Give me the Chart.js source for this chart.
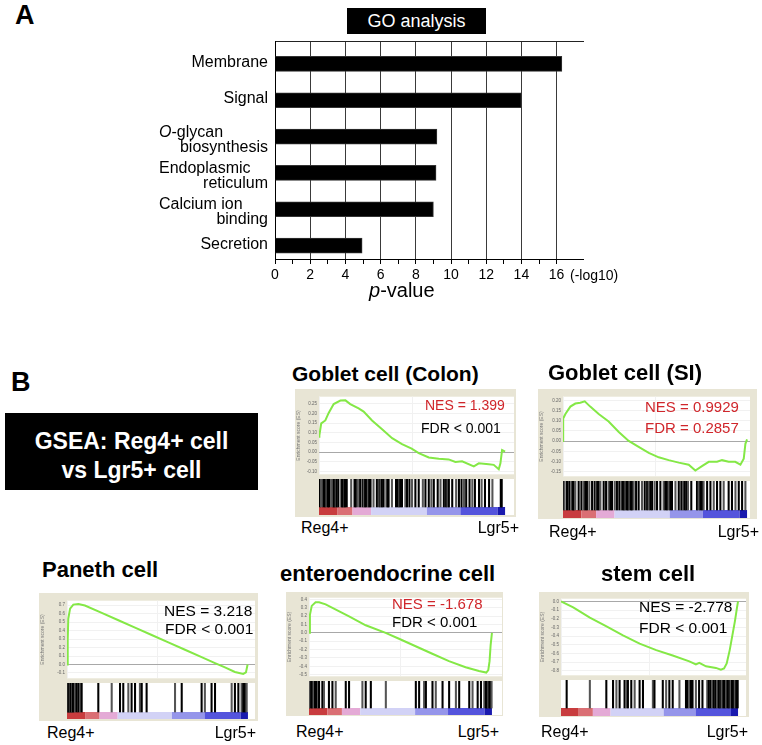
<!DOCTYPE html>
<html>
<head>
<meta charset="utf-8">
<script src="https://cdn.jsdelivr.net/npm/chart.js@4.4.1/dist/chart.umd.min.js"></script>
<style>
  body { margin: 0; background: #fff; }
  #page { position: relative; width: 762px; height: 745px; overflow: hidden; font-family: "Liberation Sans", Arial, sans-serif; }
  #page canvas, .txt, .box, .frame { position: absolute; }
  .txt { white-space: nowrap; color: #000; }
  .box { background: #000; }
  .frame { background: #e8e5d5; }
</style>
</head>
<body>
<div id="page"></div>
<script>
// --- GO analysis (panel A) ---
const goCategories = [['Membrane'], ['Signal'], ['O-glycan', 'biosynthesis'], ['Endoplasmic', 'reticulum'], ['Calcium ion', 'binding'], ['Secretion']];
const goValues = [16.3, 14.0, 9.2, 9.15, 9.0, 4.95];
const goTicks = [0, 2, 4, 6, 8, 10, 12, 14, 16];

// --- GSEA (panel B): rank position (% of list), enrichment score, gene hits ---
const colonRank = [0, 0.2, 1.2, 3.4, 5.2, 7.9, 11.5, 14.2, 16.8, 21.3, 24.0, 28.5, 33.9, 39.3, 44.6, 49.8, 53.6, 59.0, 64.4, 69.7, 73.3, 76.9, 83.2, 85.9, 91.2, 93.9, 96.6, 97.5, 98.4, 100];
const colonES = [0.08, 0.087, 0.149, 0.164, 0.203, 0.249, 0.267, 0.268, 0.249, 0.226, 0.210, 0.164, 0.118, 0.072, 0.041, 0.018, -0.005, -0.028, -0.035, -0.038, -0.051, -0.048, -0.074, -0.058, -0.063, -0.066, -0.089, -0.058, 0.011, 0.003];
const colonHits = [0.5, 1.1, 2.3, 3.2, 4.0, 4.7, 5.4, 6.5, 7.7, 8.3, 9.0, 9.5, 10.4, 11.9, 12.4, 13.1, 13.7, 14.0, 14.9, 17.3, 19.1, 19.8, 20.9, 22.1, 23.4, 24.1, 24.8, 25.5, 26.3, 27.0, 27.7, 29.3, 31.1, 32.4, 33.1, 33.8, 34.7, 36.2, 36.9, 37.4, 39.2, 41.4, 42.4, 43.2, 43.7, 44.6, 46.4, 47.3, 48.6, 50.0, 51.8, 53.6, 55.8, 57.2, 59.0, 60.4, 61.7, 63.8, 65.3, 67.1, 68.3, 69.1, 69.8, 71.6, 73.7, 75.2, 76.6, 77.9, 79.1, 80.9, 82.4, 83.8, 86.0, 87.4, 89.2, 91.4, 93.2, 97.7, 98.2];

const siRank = [0, 0.1, 1.3, 4.0, 6.7, 9.4, 11.8, 14.8, 19.4, 24.8, 30.3, 35.7, 41.1, 46.6, 52.0, 57.4, 62.9, 68.3, 71.9, 75.5, 79.2, 83.7, 86.4, 90.0, 93.6, 96.4, 98.2, 99.1, 100];
const siES = [0.001, 0.111, 0.133, 0.169, 0.184, 0.188, 0.195, 0.169, 0.133, 0.096, 0.045, 0.001, -0.028, -0.057, -0.079, -0.093, -0.105, -0.115, -0.144, -0.122, -0.101, -0.101, -0.093, -0.101, -0.101, -0.115, -0.086, -0.013, 0.009];
const siHits = [0.4, 0.9, 2.2, 3.4, 4.5, 5.3, 5.8, 6.7, 8.5, 10.0, 11.2, 12.1, 13.0, 14.3, 15.8, 17.2, 17.9, 18.7, 19.4, 20.3, 22.1, 23.4, 24.8, 25.7, 26.6, 28.1, 29.3, 30.6, 31.7, 32.4, 33.2, 33.9, 34.6, 35.3, 36.1, 36.8, 37.5, 38.4, 39.7, 41.1, 42.9, 44.4, 45.7, 46.6, 47.5, 48.4, 49.8, 51.1, 52.9, 54.7, 55.6, 56.5, 57.4, 58.3, 59.2, 61.1, 62.9, 64.3, 65.2, 66.1, 67.0, 67.9, 69.7, 72.8, 73.7, 74.6, 75.5, 76.4, 78.3, 80.1, 81.9, 83.7, 85.5, 87.3, 90.0, 91.8, 93.7, 95.5, 97.3, 99.1];

const panethRank = [0, 0.4, 0.7, 1.7, 3.5, 6.3, 9.9, 19.2, 28.4, 37.6, 46.8, 56.0, 65.2, 74.4, 81.8, 87.3, 92.8, 97.4, 98.9, 99.8];
const panethES = [0, 0.296, 0.54, 0.66, 0.707, 0.714, 0.696, 0.609, 0.522, 0.435, 0.348, 0.261, 0.174, 0.087, 0.017, -0.035, -0.088, -0.112, -0.094, 0];
const panethHits = [0, 0.4, 0.8, 1.2, 1.6, 2.0, 2.4, 2.8, 3.2, 3.6, 4.4, 5.3, 6.3, 7.2, 8.1, 17.3, 24.7, 29.3, 31.1, 33.9, 35.7, 37.6, 40.3, 41.3, 44.0, 59.7, 63.4, 74.4, 76.2, 79.9, 81.8, 91.0, 92.8, 94.7, 96.5, 97.4, 98.3, 99.3];

const enteroRank = [0, 0.5, 1.5, 3.6, 5.5, 9.1, 21.9, 31.0, 41.9, 49.2, 58.3, 67.4, 76.5, 85.6, 92.9, 96.9, 98.0, 98.7, 99.3, 100];
const enteroES = [0, 0.214, 0.322, 0.365, 0.365, 0.340, 0.197, 0.090, 0, -0.071, -0.161, -0.25, -0.339, -0.411, -0.457, -0.475, -0.446, -0.339, -0.143, 0];
const enteroHits = [0, 0.6, 1.2, 1.8, 2.5, 3.3, 4.2, 5.0, 5.5, 7.3, 8.2, 10.9, 12.8, 14.6, 20.1, 21.9, 29.2, 31.0, 33.8, 42.0, 58.4, 60.2, 62.9, 63.9, 67.5, 69.3, 73.0, 76.6, 80.3, 82.1, 87.6, 89.4, 92.2, 94.0, 95.8, 96.7, 97.4, 98.0, 98.6, 99.2, 99.8];

const stemRank = [0, 6.9, 16.3, 25.7, 35.0, 44.4, 53.8, 63.1, 72.5, 76.2, 78.1, 81.9, 87.5, 90.3, 92.1, 93.6, 95.3, 96.8, 98.3, 99.3, 100];
const stemES = [0, -0.068, -0.187, -0.289, -0.391, -0.486, -0.561, -0.623, -0.69, -0.725, -0.708, -0.748, -0.766, -0.786, -0.772, -0.715, -0.561, -0.391, -0.221, -0.085, 0];
const stemHits = [3.2, 16.3, 25.6, 29.4, 31.3, 33.1, 35.9, 36.9, 37.8, 39.7, 41.6, 44.4, 46.3, 51.9, 52.8, 57.5, 59.4, 61.2, 63.1, 66.9, 70.6, 71.5, 72.5, 73.4, 74.3, 76.2, 78.0, 79.9, 82.6, 83.5, 84.5, 85.4, 86.3, 87.3, 88.2, 89.1, 90.0, 90.8, 91.7, 92.5, 93.3, 94.1, 95.0, 95.8, 96.6, 97.4, 98.2, 99.0, 99.8];

// ranked-list colour bar (red = Reg4+ side, blue = Lgr5+ side)
const rankBandEdges = [0, 10, 18, 28, 58, 76, 96, 100];
const rankBandColors = ['#c83c3e', '#da6f74', '#e4aad6', '#d2d2f6', '#9595ea', '#5454dc', '#1a1aae'];

const gseaTitles = ['Goblet cell (Colon)', 'Goblet cell (SI)', 'Paneth cell', 'enteroendocrine cell', 'stem cell'];
const nesLabels = ['NES = 1.399', 'NES = 0.9929', 'NES = 3.218', 'NES = -1.678', 'NES = -2.778'];
const fdrLabels = ['FDR < 0.001', 'FDR = 0.2857', 'FDR < 0.001', 'FDR < 0.001', 'FDR < 0.001'];

const FONT = '"Liberation Sans", Arial, sans-serif';
const RED = '#d0262b';
Chart.defaults.font.family = FONT;

const page = document.getElementById('page');

function addText(html, x, base, size, opt = {}) {
  const d = document.createElement('div');
  d.className = 'txt';
  d.innerHTML = html;
  d.style.font = (opt.weight || 'normal') + ' ' + size + 'px ' + FONT;
  d.style.lineHeight = size + 'px';
  d.style.top = (base - 0.8465 * size) + 'px';
  d.style.left = x + 'px';
  if (opt.color) d.style.color = opt.color;
  if (opt.align === 'right') d.style.transform = 'translateX(-100%)';
  if (opt.align === 'center') d.style.transform = 'translateX(-50%)';
  page.appendChild(d);
}

function addBlock(cls, x, y, w, h) {
  const d = document.createElement('div');
  d.className = cls;
  Object.assign(d.style, { left: x + 'px', top: y + 'px', width: w + 'px', height: h + 'px' });
  page.appendChild(d);
}

function makeCanvas(x, y, w, h) {
  const c = document.createElement('canvas');
  c.width = w; c.height = h;
  Object.assign(c.style, { left: x + 'px', top: y + 'px', width: w + 'px', height: h + 'px' });
  page.appendChild(c);
  return c;
}

const noLegend = { legend: { display: false }, tooltip: { enabled: false } };

// ---------- Panel A ----------
addText('A', 15, 25, 27, { weight: 'bold' });
addBlock('box', 347, 8, 139, 26);
addText('GO analysis', 416.5, 27, 18, { align: 'center', color: '#fff' });

const goLabelPlugin = {
  id: 'goLabels',
  afterDraw(chart) {
    const ctx = chart.ctx, ys = chart.scales.y;
    ctx.save();
    ctx.fillStyle = '#000';
    ctx.textBaseline = 'alphabetic';
    goCategories.forEach((lines, i) => {
      const c = ys.getPixelForValue(i);
      ctx.font = '16px ' + FONT;
      if (lines.length === 1) {
        ctx.textAlign = 'right';
        ctx.fillText(lines[0], 268, c + 3);
        return;
      }
      ctx.textAlign = 'left';
      let first = lines[0], x = 159;
      if (first.startsWith('O-')) {
        ctx.font = 'italic 16px ' + FONT;
        ctx.fillText('O', x, c);
        x += ctx.measureText('O').width;
        ctx.font = '16px ' + FONT;
        first = first.slice(1);
      }
      ctx.fillText(first, x, c);
      ctx.textAlign = 'right';
      ctx.fillText(lines[1], 268, c + 15);
    });
    ctx.restore();
  }
};

new Chart(makeCanvas(0, 0, 762, 320), {
  type: 'bar',
  data: {
    datasets: [{
      data: goValues.map((v, i) => ({ x: v, y: i })),
      backgroundColor: '#000',
      borderColor: '#333',
      borderWidth: 1,
      barThickness: 15
    }]
  },
  options: {
    indexAxis: 'y',
    responsive: false,
    animation: false,
    layout: { padding: { top: 41, right: 179, left: 0, bottom: 0 } },
    plugins: noLegend,
    scales: {
      x: {
        type: 'linear', min: 0, max: 17.5,
        afterFit: s => { s.height = 61; },
        ticks: {
          stepSize: 1, autoSkip: false, maxRotation: 0, padding: 3, color: '#000',
          font: { size: 14 },
          callback: v => goTicks.includes(v) ? v : ''
        },
        grid: {
          color: c => (c.tick && c.tick.value > 0 && goTicks.includes(c.tick.value)) ? '#3a3a3a' : 'rgba(0,0,0,0)',
          tickColor: c => (c.tick && c.tick.value <= 17) ? '#000' : 'rgba(0,0,0,0)',
          tickLength: 5
        },
        border: { color: '#000' }
      },
      x2: {
        type: 'linear', position: 'top', min: 0, max: 17.5,
        ticks: { display: false }, grid: { display: false },
        border: { color: '#222' },
        afterFit: s => { s.height = 0; }
      },
      y: {
        type: 'linear', reverse: true, offset: false, min: -0.63, max: 5.37,
        ticks: { display: false }, grid: { display: false },
        border: { color: '#000' },
        afterFit: s => { s.width = 275; }
      }
    }
  },
  plugins: [goLabelPlugin]
});

addText('(-log10)', 570, 280, 14);
addText('<i>p</i>-value', 369, 297, 20);

// ---------- Panel B ----------
addText('B', 11, 392, 27, { weight: 'bold' });
addBlock('box', 5, 413, 253, 77);
addText('GSEA: Reg4+ cell', 131.5, 449, 23, { align: 'center', color: '#fff', weight: 'bold' });
addText('vs Lgr5+ cell', 131.5, 478, 23, { align: 'center', color: '#fff', weight: 'bold' });

const whiteArea = {
  id: 'whiteArea',
  beforeDraw(chart) {
    const a = chart.chartArea, ctx = chart.ctx;
    ctx.save();
    ctx.fillStyle = '#fff';
    ctx.fillRect(a.left, a.top, a.right - a.left, a.bottom - a.top);
    ctx.restore();
  }
};

const rankBand = {
  id: 'rankBand',
  beforeDatasetsDraw(chart) {
    const xs = chart.scales.x, ys = chart.scales.y, ctx = chart.ctx;
    const y0 = ys.getPixelForValue(0), y1 = ys.getPixelForValue(ys.min);
    ctx.save();
    rankBandColors.forEach((col, i) => {
      const x0 = xs.getPixelForValue(rankBandEdges[i]);
      const x1 = xs.getPixelForValue(rankBandEdges[i + 1]);
      ctx.fillStyle = col;
      ctx.fillRect(x0, y0, x1 - x0, y1 - y0);
    });
    ctx.restore();
  }
};

function gseaPanel(p, rank, es, hits) {
  const f = p.frame;
  addBlock('frame', f.l, f.t, f.r - f.l, f.b - f.t);

  // running enrichment score
  new Chart(makeCanvas(f.l, p.esTop, p.innerR - f.l, p.esBot - p.esTop), {
    type: 'line',
    data: {
      datasets: [{
        data: rank.map((r, i) => ({ x: r, y: es[i] })),
        borderColor: '#84e846', borderWidth: 2, pointRadius: 0, tension: 0
      }]
    },
    options: {
      responsive: false, animation: false, layout: { padding: 0 },
      plugins: noLegend,
      scales: {
        x: {
          type: 'linear', min: 0, max: p.xMax,
          ticks: { display: false },
          grid: { color: '#f1f1f1', drawTicks: false },
          border: { display: false },
          afterFit: s => { s.height = 0; }
        },
        y: {
          min: p.yMin, max: p.yMax,
          ticks: {
            stepSize: p.yStep, includeBounds: false, padding: 2, color: '#666',
            font: { size: 4.5 },
            callback: v => v.toFixed(p.yStep < 0.1 ? 2 : 1)
          },
          grid: {
            color: c => (c.tick && Math.abs(c.tick.value) < 1e-9) ? '#a8a8a8' : '#f1f1f1',
            drawTicks: false
          },
          border: { display: false },
          title: { display: true, text: 'Enrichment score (ES)', font: { size: 5 }, color: '#777', padding: 1 },
          afterFit: s => { s.width = p.innerL - f.l; }
        }
      }
    },
    plugins: [whiteArea]
  });

  // hit barcode + ranked list colour bar
  const bandMin = -(p.gradBot - p.gradTop) / (p.gradTop - p.esBot);
  new Chart(makeCanvas(p.innerL, p.esBot, p.innerR - p.innerL, p.gradBot - p.esBot), {
    type: 'bar',
    data: {
      datasets: [{
        data: hits.map(h => ({ x: h, y: [0, 1] })),
        backgroundColor: c => c.dataIndex % 3 === 1 ? '#555' : '#000',
        barThickness: 1.4,
        grouped: false
      }]
    },
    options: {
      responsive: false, animation: false, layout: { padding: 0 },
      plugins: noLegend,
      scales: {
        x: { type: 'linear', offset: false, min: 0, max: p.xMax, display: false },
        y: { min: bandMin, max: 1, display: false }
      }
    },
    plugins: [whiteArea, rankBand]
  });
}

const panels = [
  { frame: { l: 295, t: 389, r: 516, b: 517 }, innerL: 319, innerR: 514, esTop: 392, esBot: 479, gradTop: 507, gradBot: 515, xMax: 104.8, yMin: -0.115, yMax: 0.287, yStep: 0.05,
    title: [292, 381, 21], nes: [425, 410, 14, RED], fdr: [421, 433, 14, '#000'], reg: [301, 534], lgr: [519, 534] },
  { frame: { l: 538, t: 389, r: 757, b: 519 }, innerL: 563, innerR: 750, esTop: 392, esBot: 481, gradTop: 510, gradBot: 518, xMax: 101.6, yMin: -0.172, yMax: 0.2175, yStep: 0.05,
    title: [548, 381, 22], nes: [645, 412, 15, RED], fdr: [645, 433, 15, RED], reg: [549, 538], lgr: [759, 538] },
  { frame: { l: 39, t: 593, r: 258, b: 721 }, innerL: 67, innerR: 255, esTop: 596, esBot: 683, gradTop: 712, gradBot: 719, xMax: 103.9, yMin: -0.163, yMax: 0.753, yStep: 0.1,
    title: [42, 578, 22], nes: [164, 616, 15.5, '#000'], fdr: [165, 634, 15.5, '#000'], reg: [47, 739], lgr: [256, 739] },
  { frame: { l: 286, t: 592, r: 503, b: 716 }, innerL: 309, innerR: 502, esTop: 593, esBot: 681, gradTop: 708, gradBot: 715, xMax: 105.5, yMin: -0.52, yMax: 0.42, yStep: 0.1,
    title: [280, 582, 22], nes: [392, 609, 15, RED], fdr: [392, 627, 15, '#000'], reg: [296, 738], lgr: [499, 738] },
  { frame: { l: 539, t: 592, r: 749, b: 717 }, innerL: 561, innerR: 746, esTop: 594, esBot: 680, gradTop: 708, gradBot: 716, xMax: 104.5, yMin: -0.851, yMax: 0.031, yStep: 0.1,
    title: [601, 582, 22], nes: [639, 612, 15.5, '#000'], fdr: [639, 633, 15.5, '#000'], reg: [541, 738], lgr: [748, 738] }
];
const series = [
  [colonRank, colonES, colonHits],
  [siRank, siES, siHits],
  [panethRank, panethES, panethHits],
  [enteroRank, enteroES, enteroHits],
  [stemRank, stemES, stemHits]
];

panels.forEach((p, i) => {
  gseaPanel(p, ...series[i]);
  addText(gseaTitles[i], p.title[0], p.title[1], p.title[2], { weight: 'bold' });
  addText(nesLabels[i], p.nes[0], p.nes[1], p.nes[2], { color: p.nes[3] });
  addText(fdrLabels[i], p.fdr[0], p.fdr[1], p.fdr[2], { color: p.fdr[3] });
  addText('Reg4+', p.reg[0], p.reg[1], 16);
  addText('Lgr5+', p.lgr[0], p.lgr[1], 16, { align: 'right' });
});
</script>
</body>
</html>
